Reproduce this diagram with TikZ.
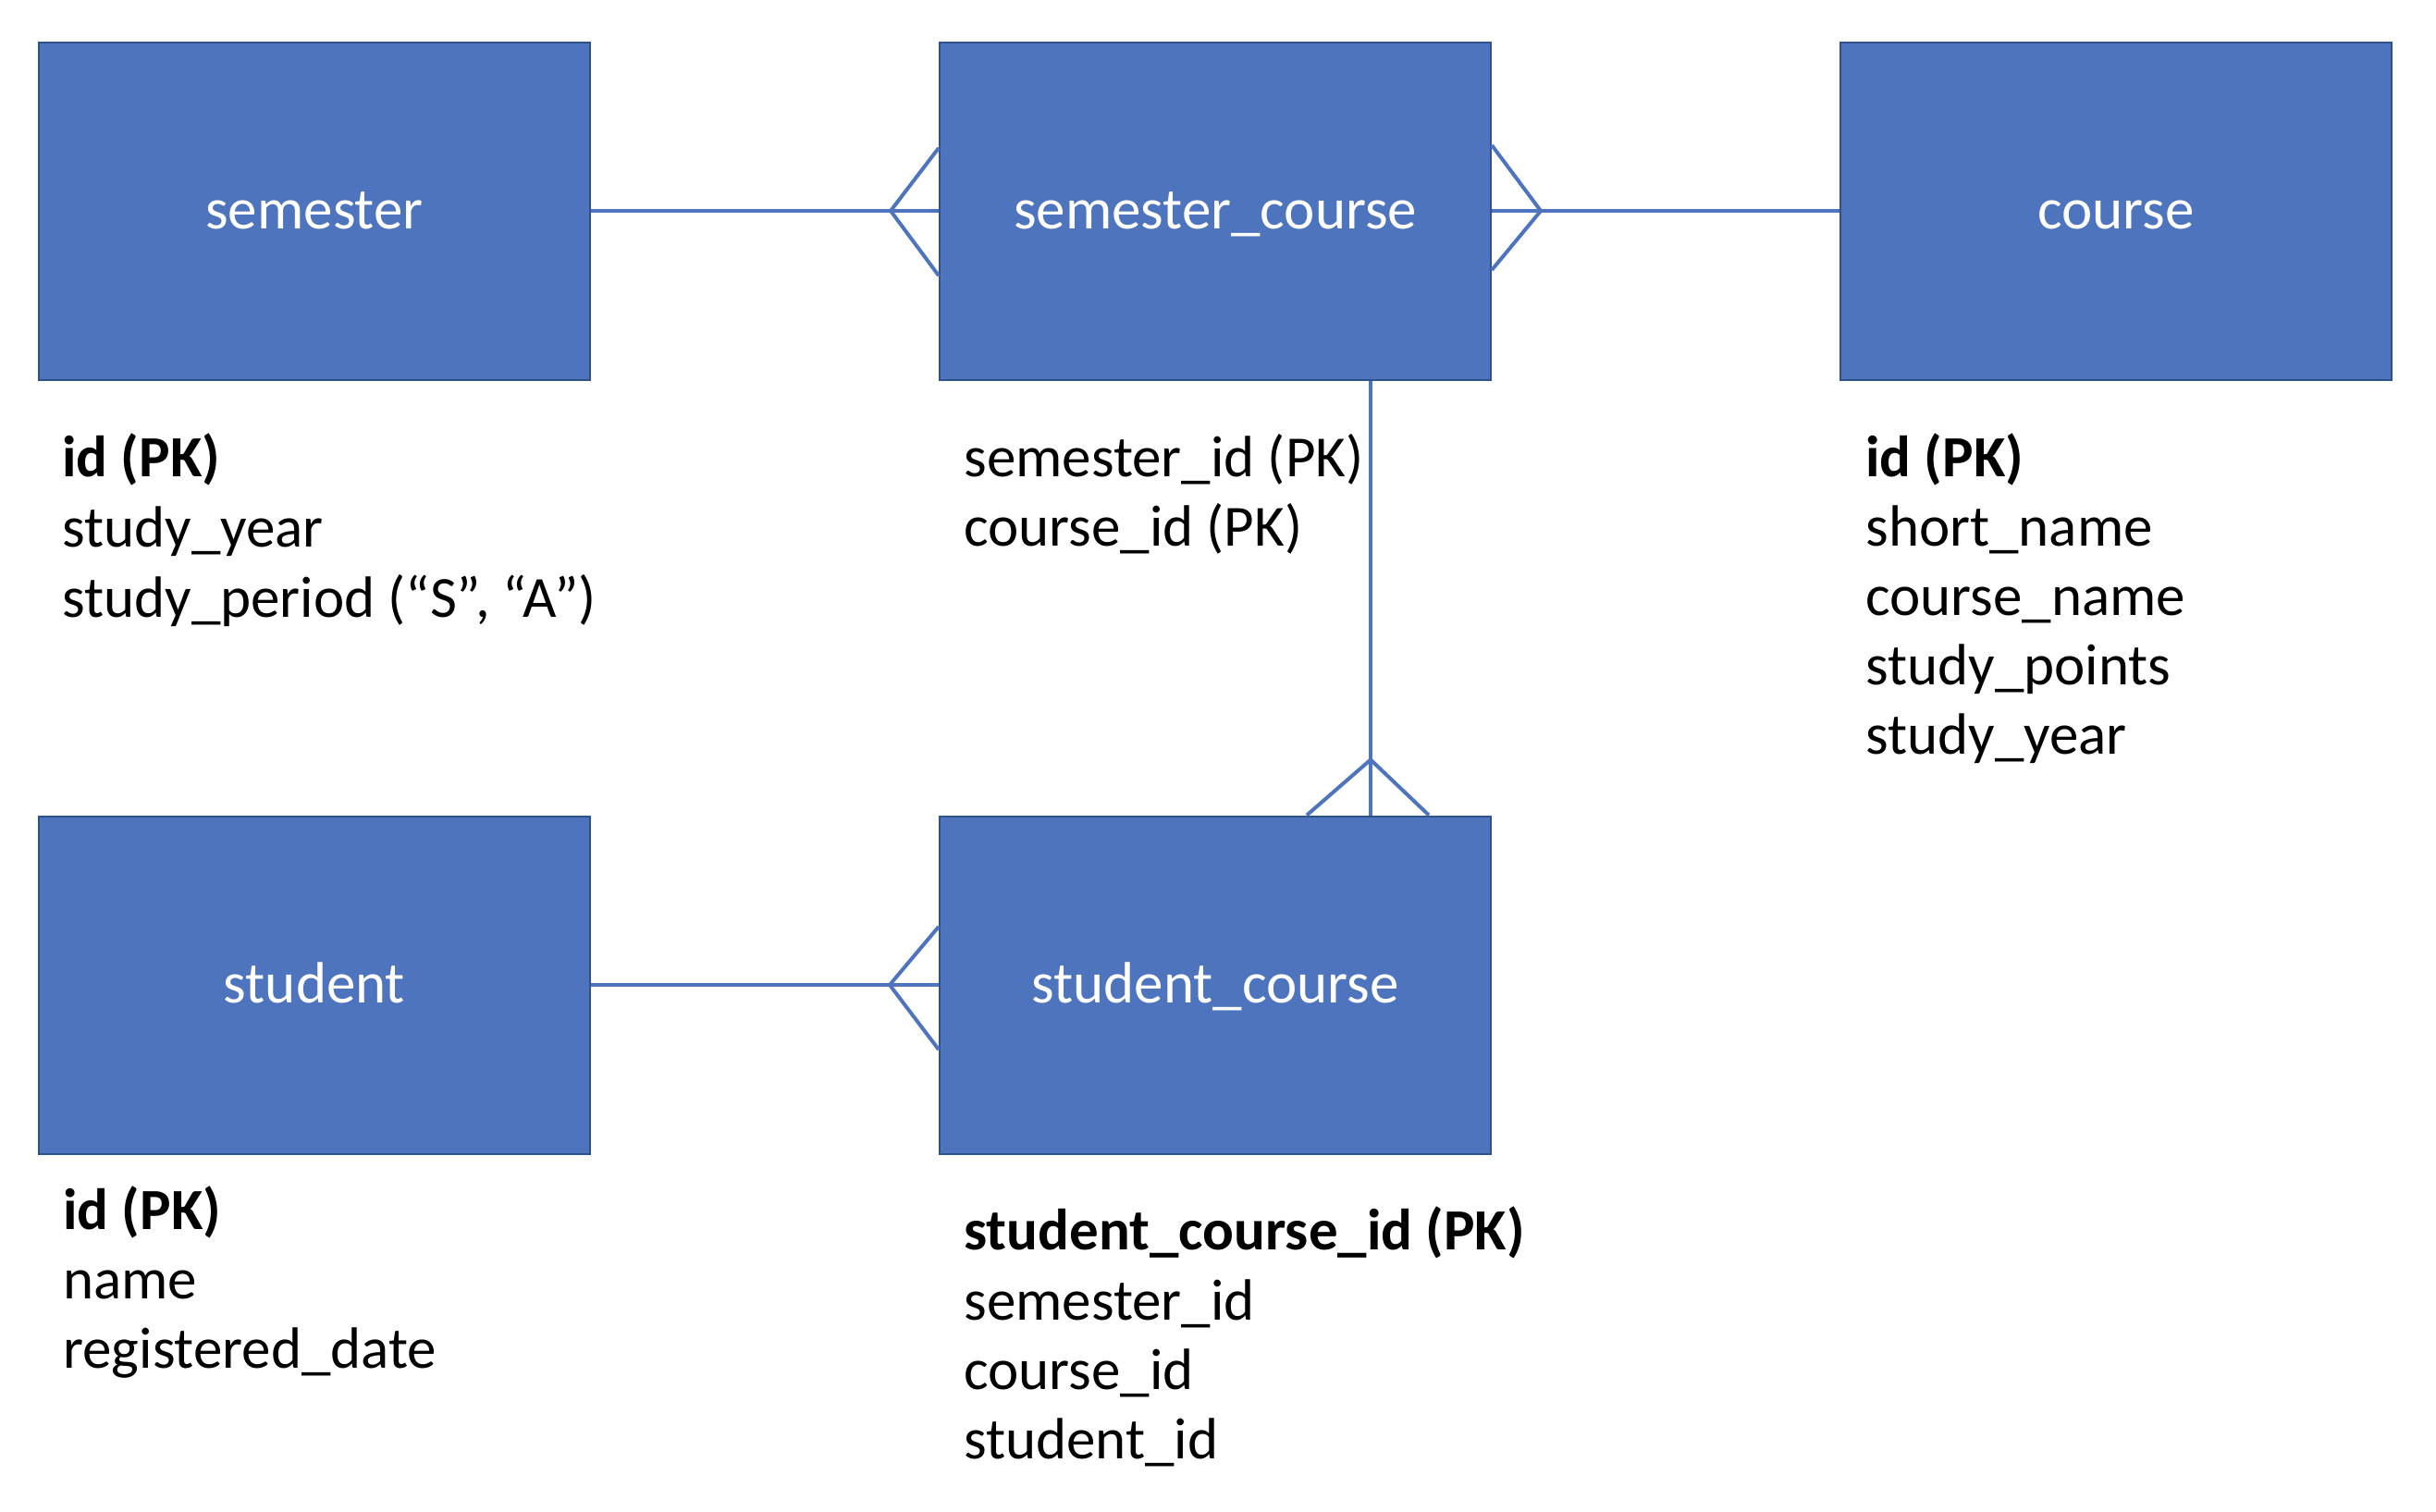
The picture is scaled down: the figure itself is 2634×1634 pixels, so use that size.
\documentclass[tikz,border=0pt]{standalone}
\usepackage{fontspec}
\setmainfont{Carlito}
\usetikzlibrary{calc}
\definecolor{boxblue}{HTML}{4E74BE}
\definecolor{boxedge}{HTML}{2F528F}
\tikzset{
  entity/.style={rectangle, fill=boxblue, draw=boxedge, line width=1pt,
    minimum width=298pt, minimum height=182.5pt, inner sep=0pt,
    text height=25pt, text depth=6pt,
    text=white, font=\fontsize{31.5}{38}\selectfont},
  attr/.style={anchor=base west, inner sep=0pt, text=black,
    font=\fontsize{31.5}{38}\selectfont},
  pk/.style={attr, font=\fontsize{31.5}{38}\selectfont\bfseries},
  rel/.style={draw=boxblue, line width=2pt},
}
\begin{document}
\begin{tikzpicture}[x=0.5pt,y=-0.5pt]
\useasboundingbox (0,0) rectangle (2634,1634);

% entities
\node[entity] (semester) at (340,228) {semester};
\node[entity] (semcourse) at (1314,228) {semester\_course};
\node[entity] (course) at (2288,228) {course};
\node[entity] (student) at (340,1065) {student};
\node[entity] (studcourse) at (1314,1065) {student\_course};

% relationship: semester -- semester_course
\draw[rel] (semester.east) -- (semcourse.west);
\coordinate (t1) at ($(semcourse.west)+(-52,0)$);
\draw[rel] ($(semcourse.west)+(0,-68)$) -- (t1) -- ($(semcourse.west)+(0,70)$);

% relationship: semester_course -- course
\draw[rel] (semcourse.east) -- (course.west);
\coordinate (t2) at ($(semcourse.east)+(53,0)$);
\draw[rel] ($(semcourse.east)+(0,-71)$) -- (t2) -- ($(semcourse.east)+(0,64)$);

% relationship: semester_course -- student_course (vertical)
\coordinate (vtop) at ($(semcourse.south)+(168,0)$);
\coordinate (vbot) at ($(studcourse.north)+(168,0)$);
\draw[rel] (vtop) -- (vbot);
\coordinate (t3) at ($(vbot)+(0,-60)$);
\draw[rel] ($(vbot)+(-69,0)$) -- (t3) -- ($(vbot)+(63,0)$);

% relationship: student -- student_course
\draw[rel] (student.east) -- (studcourse.west);
\coordinate (t4) at ($(studcourse.west)+(-53,0)$);
\draw[rel] ($(studcourse.west)+(0,-63)$) -- (t4) -- ($(studcourse.west)+(0,70)$);

% attributes: semester
\node[pk]   (sa1) at (67,515) {id (PK)};
\node[attr] (sa2) at (67,591) {study\_year};
\node[attr] (sa3) at (67,667) {study\_period (“S”, “A”)};

% attributes: semester_course
\node[attr] (sca1) at (1042,515) {semester\_id (PK)};
\node[attr] (sca2) at (1042,590) {course\_id (PK)};

% attributes: course
\node[pk]   (ca1) at (2017,515) {id (PK)};
\node[attr] (ca2) at (2017,590) {short\_name};
\node[attr] (ca3) at (2017,665) {course\_name};
\node[attr] (ca4) at (2017,740) {study\_points};
\node[attr] (ca5) at (2017,815) {study\_year};

% attributes: student
\node[pk]   (sta1) at (68,1329) {id (PK)};
\node[attr] (sta2) at (68,1404) {name};
\node[attr] (sta3) at (68,1479) {registered\_date};

% attributes: student_course
\node[pk]   (sca1b) at (1042,1351) {student\_course\_id (PK)};
\node[attr] (sca2b) at (1042,1427) {semester\_id};
\node[attr] (sca3b) at (1042,1502) {course\_id};
\node[attr] (sca4b) at (1042,1577) {student\_id};
\end{tikzpicture}
\end{document}
